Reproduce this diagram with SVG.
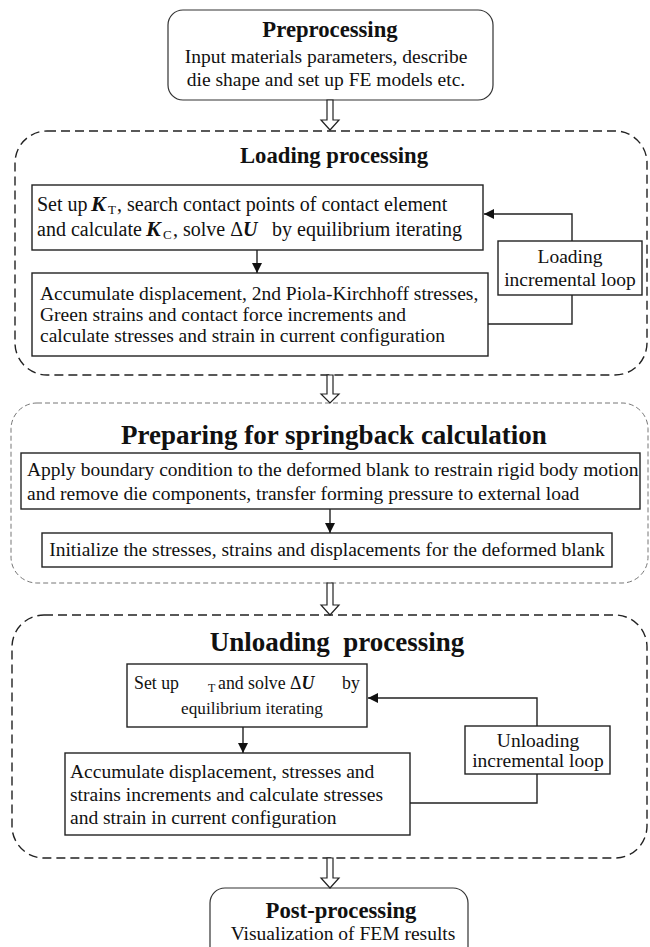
<svg xmlns="http://www.w3.org/2000/svg" width="650" height="947" viewBox="0 0 650 947" font-family="'Liberation Serif', 'DejaVu Serif', serif">
<style>
text{font-family:"Liberation Serif","DejaVu Serif",serif;fill:#111}
.t{font-weight:bold;text-anchor:middle;font-size:22.7px}
.T{font-weight:bold;text-anchor:middle;font-size:27px}
.b{font-size:19.5px}
.c{text-anchor:middle}
.box{fill:#fff;stroke:#222;stroke-width:1.4}
.rb{fill:#fff;stroke:#333;stroke-width:1.2}
.dash{fill:none;stroke:#222;stroke-width:1.4;stroke-dasharray:9 5}
.dash2{fill:none;stroke:#777;stroke-width:1;stroke-dasharray:5 3}
.ln{fill:none;stroke:#222;stroke-width:1.4}
.ha{fill:#fff;stroke:#222;stroke-width:1.2}
.m{font-weight:bold;font-style:italic}
.s{font-size:13px}
</style>
<defs>
<marker id="ah" viewBox="0 0 10 10" refX="10" refY="5" markerWidth="10" markerHeight="10" markerUnits="userSpaceOnUse" orient="auto">
<path d="M0,0 L10,5 L0,10 z" fill="#111"/>
</marker>
</defs>

<g id="preprocessing">
<rect class="rb" x="168" y="10" width="325" height="90" rx="15"/>
<text class="t" x="330" y="37">Preprocessing</text>
<text class="b c" x="326" y="63">Input materials parameters, describe</text>
<text class="b c" x="326" y="86">die shape and set up FE models etc.</text>
</g>

<g id="loading">
<rect class="dash" x="15" y="131" width="632" height="244" rx="32"/>
<text class="t" x="334" y="163">Loading processing</text>
</g>
<g id="setup-kt">
<rect class="box" x="32" y="185" width="451" height="65"/>
<text font-size="20" x="37" y="211">Set up<tspan class="m" font-size="22" x="91">K</tspan><tspan class="s" x="108" dy="3">T</tspan><tspan x="117" dy="-3">, search contact points of contact element</tspan></text>
<text font-size="20" x="37" y="236">and calculate<tspan class="m" font-size="22" x="146">K</tspan><tspan class="s" x="163" dy="3">C</tspan><tspan x="173" dy="-3">, solve Δ</tspan><tspan class="m">U</tspan><tspan x="272">by equilibrium iterating</tspan></text>
</g>
<g id="accumulate1">
<rect class="box" x="32" y="273" width="456" height="83"/>
<text class="b" x="40" y="300">Accumulate displacement, 2nd Piola-Kirchhoff stresses,</text>
<text class="b" x="40" y="321">Green strains and contact force increments and</text>
<text class="b" x="40" y="342">calculate stresses and strain in current configuration</text>
</g>
<g id="loading-loop">
<rect class="box" x="498" y="241" width="144" height="54"/>
<text class="b c" x="570" y="263">Loading</text>
<text class="b c" x="570" y="286">incremental loop</text>
</g>

<g id="preparing">
<rect class="dash2" x="11" y="403" width="637" height="180" rx="26"/>
<text class="T" x="334" y="444">Preparing for springback calculation</text>
</g>
<g id="apply-bc">
<rect class="box" x="21" y="453" width="619" height="56"/>
<text class="b" x="27" y="476" font-size="19.4">Apply boundary condition to the deformed blank to restrain rigid body motion</text>
<text class="b" x="27" y="500" font-size="19.4">and remove die components, transfer forming pressure to external load</text>
</g>
<g id="initialize">
<rect class="box" x="42" y="533" width="570" height="34"/>
<text class="b c" x="327" y="556">Initialize the stresses, strains and displacements for the deformed blank</text>
</g>

<g id="unloading">
<rect class="dash" x="12" y="615" width="635" height="243" rx="32"/>
<text class="T" x="337" y="651" xml:space="preserve">Unloading  processing</text>
</g>
<g id="setup-unload">
<rect class="box" x="127" y="664" width="240" height="63"/>
<text font-size="17.8" x="134" y="689">Set up</text>
<text font-size="12" x="208" y="692">T</text>
<text font-size="17.8" x="218" y="689">and solve Δ<tspan class="m">U</tspan></text>
<text font-size="17.8" x="342" y="689">by</text>
<text font-size="17.2" class="c" x="252" y="714">equilibrium iterating</text>
</g>
<g id="accumulate2">
<rect class="box" x="65" y="753" width="345" height="82"/>
<text class="b" x="70" y="778">Accumulate displacement, stresses and</text>
<text class="b" x="70" y="801">strains increments and calculate stresses</text>
<text class="b" x="70" y="824">and strain in current configuration</text>
</g>
<g id="unloading-loop">
<rect class="box" x="465" y="726" width="145" height="48"/>
<text class="b c" x="538" y="747">Unloading</text>
<text class="b c" x="538" y="767">incremental loop</text>
</g>

<g id="postprocessing">
<rect class="rb" x="210" y="888" width="258" height="80" rx="15"/>
<text class="t" x="341" y="918">Post-processing</text>
<text class="b c" x="343" y="940">Visualization of FEM results</text>
</g>

<g id="connectors">
<path class="ha" d="M327,100 V120 H321 L330,130 L339,120 H333 V100 Z"/>
<path class="ha" d="M327,375 V394 H321 L330,403 L339,394 H333 V375 Z"/>
<path class="ha" d="M327,583 V605 H321 L330,615 L339,605 H333 V583 Z"/>
<path class="ha" d="M327,858 V878 H321 L330,888 L339,878 H333 V858 Z"/>
<path class="ln" d="M257,250 V273" marker-end="url(#ah)"/>
<path class="ln" d="M572,241 V214 H484" marker-end="url(#ah)"/>
<path class="ln" d="M572,295 V324 H488"/>
<path class="ln" d="M330,509 V533" marker-end="url(#ah)"/>
<path class="ln" d="M243,727 V753" marker-end="url(#ah)"/>
<path class="ln" d="M537,726 V698 H368" marker-end="url(#ah)"/>
<path class="ln" d="M537,774 V803 H410"/>
</g>
</svg>
